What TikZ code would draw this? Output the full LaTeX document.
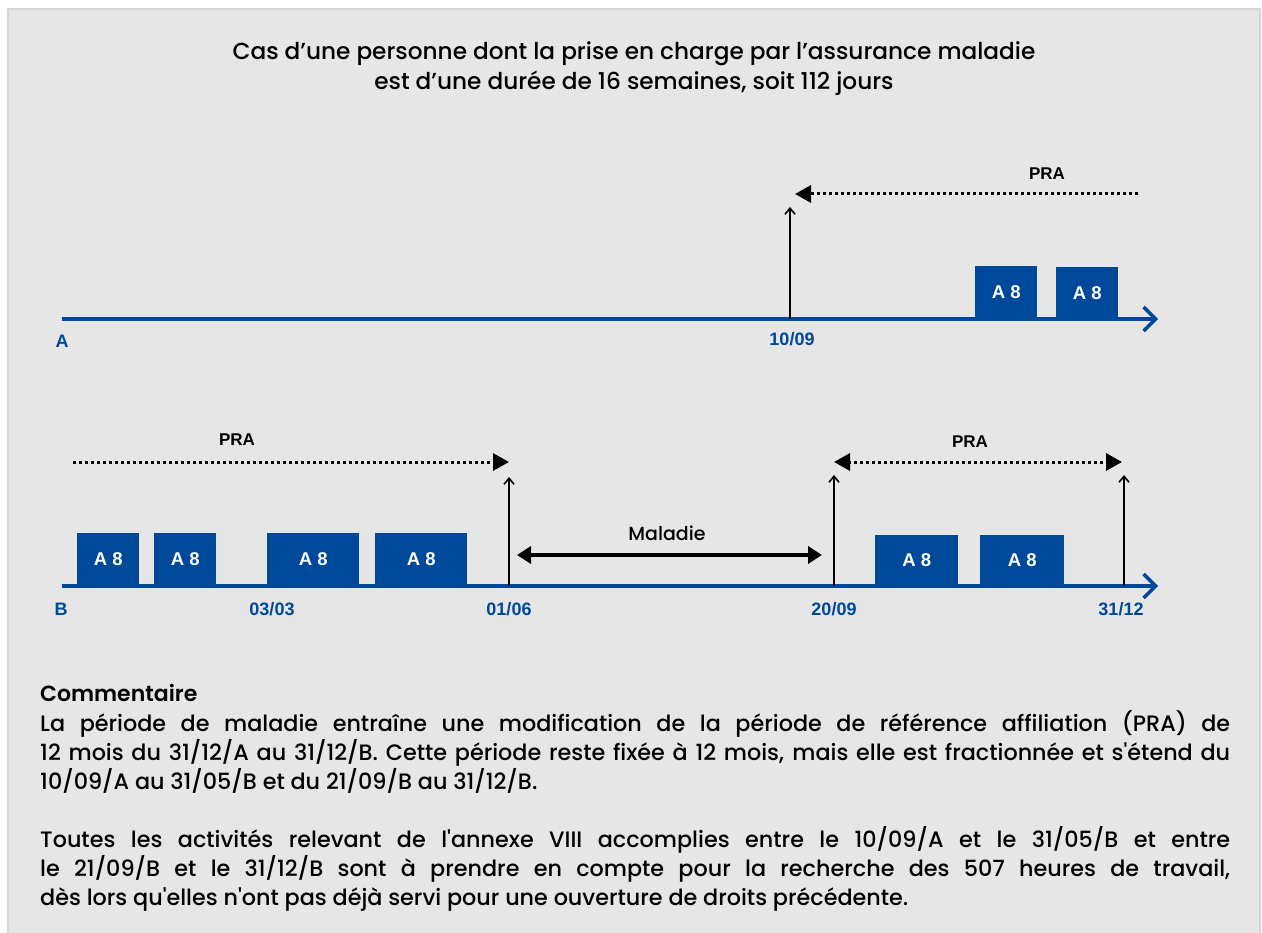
\documentclass[tikz,border=0pt]{standalone}
\usepackage{fontspec}
\setmainfont{Poppins Medium}[Ligatures=TeXOff]
\newfontfamily\headfont{Poppins SemiBold}[Ligatures=TeXOff]
\newfontfamily\labelfont{Liberation Sans}
\usetikzlibrary{arrows.meta,calc}
\definecolor{panelbg}{HTML}{E6E6E6}
\definecolor{panelborder}{HTML}{D6D6D6}
\definecolor{tlblue}{HTML}{00499A}
\begin{document}
\begin{tikzpicture}[x=1pt,y=-1pt,
  timeline/.style={draw=tlblue, line width=3.5pt, -{Straight Barb[length=12pt,width=24pt,line width=3.5pt]}},
  tick/.style={draw=black, line width=2.8pt, -{Straight Barb[length=6pt,width=10pt,line width=1.6pt]}},
  pra/.style={draw=black, line width=3pt, dash pattern=on 3pt off 3pt},
  prahead/.style={line width=3pt, -{Triangle[length=16pt,width=17pt]}},
  sick/.style={draw=black, line width=3.5pt, {Triangle[length=14pt,width=17pt]}-{Triangle[length=14pt,width=17pt]}},
  a8box/.style={fill=tlblue, text=white, inner sep=0pt, anchor=south west, font=\labelfont\bfseries\fontsize{18.5pt}{20pt}\selectfont},
  datelabel/.style={text=tlblue, inner sep=0pt, font=\labelfont\bfseries\fontsize{18pt}{20pt}\selectfont},
  pralabel/.style={text=black, inner sep=0pt, font=\labelfont\bfseries\fontsize{17pt}{19pt}\selectfont},
  titleline/.style={inner sep=0pt, anchor=base, font=\fontsize{23.2pt}{30pt}\selectfont}
]
\useasboundingbox (0,0) rectangle (1262,933);
\fill[white] (0,0) rectangle (1262,933);
\fill[panelbg] (8,9) rectangle (1260,933);
\draw[panelborder, line width=2pt] (8,933) -- (8,9) -- (1260,9) -- (1260,933);

% title
\node[titleline] (title1) at (634,60) {Cas d’une personne dont la prise en charge par l’assurance maladie};
\node[titleline] (title2) at (634,90) {est d’une durée de 16 semaines, soit 112 jours};

% ---------- timeline A
\coordinate (A0) at (62,319);
\coordinate (A1) at (1158,319);
\node[a8box, minimum width=62pt, minimum height=53pt] (ta1) at (975,319) {\raisebox{-3pt}{A 8}};
\node[a8box, minimum width=62pt, minimum height=52pt] (ta2) at (1056,319) {\raisebox{-3pt}{A 8}};
\draw[timeline] (A0) -- (A1);
\node[datelabel] (labA) at (62,341) {A};
\node[datelabel] (d1009) at (792,339) {10/09};
\coordinate (tA) at (790,319);
\coordinate (tAtop) at (790,207);
\draw[tick] (tA) -- (tAtop);
\coordinate (praA0) at (1138,194);
\coordinate (praA1) at (795,194);
\draw[pra] (praA0) -- ($(praA1)+(8,0)$);
\draw[prahead] ($(praA1)+(10,0)$) -- (praA1);
\node[pralabel] (praAlab) at (1047,174) {PRA};

% ---------- timeline B
\coordinate (B0) at (62,586);
\coordinate (B1) at (1158,586);
\node[a8box, minimum width=62pt, minimum height=53pt] (tb1) at (77,586) {\raisebox{-3pt}{A 8}};
\node[a8box, minimum width=62pt, minimum height=53pt] (tb2) at (154,586) {\raisebox{-3pt}{A 8}};
\node[a8box, minimum width=92pt, minimum height=53pt] (tb3) at (267,586) {\raisebox{-3pt}{A 8}};
\node[a8box, minimum width=92pt, minimum height=53pt] (tb4) at (375,586) {\raisebox{-3pt}{A 8}};
\node[a8box, minimum width=83pt, minimum height=51pt] (tb5) at (875,586) {\raisebox{-4pt}{A 8}};
\node[a8box, minimum width=84pt, minimum height=51pt] (tb6) at (980,586) {\raisebox{-4pt}{A 8}};
\draw[timeline] (B0) -- (B1);
\node[datelabel] (labB) at (61,609) {B};
\node[datelabel] (d0303) at (272,609) {03/03};
\node[datelabel] (d0106) at (509,609) {01/06};
\node[datelabel] (d2009) at (834,609) {20/09};
\node[datelabel] (d3112) at (1121,609) {31/12};

\coordinate (t1) at (509,586);   \coordinate (t1top) at (509,477);
\coordinate (t2) at (834,586);   \coordinate (t2top) at (834,475);
\coordinate (t3) at (1124,586);  \coordinate (t3top) at (1124,475);
\draw[tick] (t1) -- (t1top);
\draw[tick] (t2) -- (t2top);
\draw[tick] (t3) -- (t3top);

\coordinate (praB0) at (73,462);
\coordinate (praB1) at (509,462);
\draw[pra] (praB0) -- ($(praB1)+(-8,0)$);
\draw[prahead] ($(praB1)+(-10,0)$) -- (praB1);
\node[pralabel] (praBlab) at (237,440) {PRA};

\coordinate (praC0) at (834,462);
\coordinate (praC1) at (1122,462);
\draw[pra] ($(praC0)+(8,0)$) -- ($(praC1)+(-8,0)$);
\draw[prahead] ($(praC1)+(-10,0)$) -- (praC1);
\draw[prahead] ($(praC0)+(10,0)$) -- (praC0);
\node[pralabel] (praClab) at (970,442) {PRA};

\coordinate (mal0) at (517,555);
\coordinate (mal1) at (822,555);
\draw[sick] (mal0) -- (mal1);
\node[inner sep=0pt, anchor=base, font=\fontsize{19pt}{21pt}\selectfont] (mallab) at (667,540) {Maladie};

% ---------- commentary
\node[anchor=base west, inner sep=0pt, font=\headfont\fontsize{22pt}{29pt}\selectfont] (comhead) at (40,701) {Commentaire};
\node[anchor=north west, inner sep=0pt, text width=1190pt, align=justify,
      font=\fontsize{22.3pt}{29pt}\selectfont] (combody) at (40,709)
{\rule{0pt}{22pt}La période de maladie entraîne une modification de la période de référence affiliation (PRA) de\linebreak
12 mois du 31/12/A au 31/12/B. Cette période reste fixée à 12 mois, mais elle est fractionnée et s'étend du\linebreak
10/09/A au 31/05/B et du 21/09/B au 31/12/B.\par\vspace{29pt}
Toutes les activités relevant de l'annexe VIII accomplies entre le 10/09/A et le 31/05/B et entre\linebreak
le 21/09/B et le 31/12/B sont à prendre en compte pour la recherche des 507 heures de travail,\linebreak
dès lors qu'elles n'ont pas déjà servi pour une ouverture de droits précédente.};
\end{tikzpicture}
\end{document}
